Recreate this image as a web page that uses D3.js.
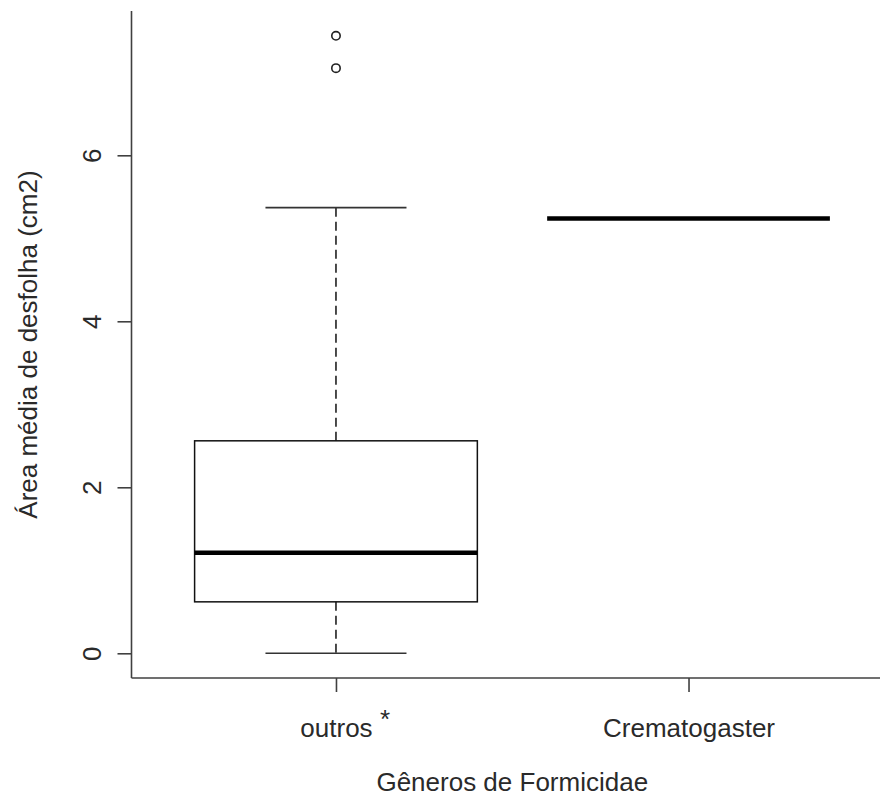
<!DOCTYPE html>
<html><head><meta charset="utf-8">
<script src="https://cdn.jsdelivr.net/npm/d3@7/dist/d3.min.js"></script>
<style>html,body{margin:0;padding:0;background:#fff;}svg{display:block;}</style>
</head><body>
<script>
// ---- data ----
const categories = ["outros", "Crematogaster"];
const q1Values = [0.62, 5.24];
const medianValues = [1.21, 5.24];
const q3Values = [2.56, 5.24];
const whiskerLow = [0.0, 5.24];
const whiskerHigh = [5.37, 5.24];
const outlierValues = [[7.05, 7.44], []];
const yTicks = [0, 2, 4, 6];
const xTitle = "Gêneros de Formicidae";
const yTitle = "Área média de desfolha (cm2)";

const W = 880, H = 803;
const font = "'Liberation Sans', Arial, sans-serif";
const textColor = "#2a2a2a";
const svg = d3.select("body").append("svg").attr("width", W).attr("height", H);

const x = d3.scaleLinear().domain([0.42, 2.58]).range([131.5, 893]);
const y = d3.scaleLinear().domain([0, 6]).range([653.3, 155.3]);
const yLo = -0.2976, yHi = 7.7376;
const boxW = 0.802, capW = 0.4;

const axisColor = "#404040";

// axes lines (L shape)
svg.append("line").attr("x1", x(0.42)).attr("x2", x(0.42)).attr("y1", y(yHi)).attr("y2", y(yLo))
  .attr("stroke", axisColor).attr("stroke-width", 1.6);
svg.append("line").attr("x1", x(0.42)).attr("x2", x(2.58)).attr("y1", y(yLo)).attr("y2", y(yLo))
  .attr("stroke", axisColor).attr("stroke-width", 1.6);

// y axis ticks via d3 axis
const yAxis = d3.axisLeft(y).tickValues(yTicks).tickSize(14).tickFormat(d3.format("d"));
const gy = svg.append("g").attr("transform", `translate(${x(0.42)},0)`).call(yAxis);
gy.select(".domain").remove();
gy.selectAll(".tick line").attr("stroke", axisColor).attr("stroke-width", 1.6);
gy.selectAll(".tick text")
  .attr("font-family", font).attr("font-size", 26).attr("fill", textColor)
  .attr("x", 0).attr("dy", 0).attr("text-anchor", "middle")
  .attr("transform", "translate(-31,0) rotate(-90)");

// x axis ticks
const xAxis = d3.axisBottom(x).tickValues([1, 2]).tickSize(14).tickFormat((d) => categories[d - 1]);
const gx = svg.append("g").attr("transform", `translate(0,${y(yLo)})`).call(xAxis);
gx.select(".domain").remove();
gx.selectAll(".tick line").attr("stroke", axisColor).attr("stroke-width", 1.6);
gx.selectAll(".tick text")
  .attr("font-family", font).attr("font-size", 26).attr("fill", textColor)
  .attr("y", 59).attr("dy", 0);
// asterisk after "outros"
svg.append("text").attr("x", x(1) + 44).attr("y", y(yLo) + 50)
  .attr("font-family", font).attr("font-size", 26).attr("fill", textColor).text("*");

// boxes
categories.forEach((c, i) => {
  const cx = x(i + 1);
  const xl = x(i + 1 - boxW / 2), xr = x(i + 1 + boxW / 2);
  const cl = x(i + 1 - capW / 2), cr = x(i + 1 + capW / 2);
  const g = svg.append("g");
  // whiskers
  g.append("line").attr("x1", cx).attr("x2", cx).attr("y1", y(q3Values[i])).attr("y2", y(whiskerHigh[i]))
    .attr("stroke", "#000").attr("stroke-width", 1.4).attr("stroke-dasharray", "9,5");
  g.append("line").attr("x1", cx).attr("x2", cx).attr("y1", y(q1Values[i])).attr("y2", y(whiskerLow[i]))
    .attr("stroke", "#000").attr("stroke-width", 1.4).attr("stroke-dasharray", "9,5");
  // caps
  [whiskerHigh[i], whiskerLow[i]].forEach(v => {
    g.append("line").attr("x1", cl).attr("x2", cr).attr("y1", y(v)).attr("y2", y(v))
      .attr("stroke", "#333").attr("stroke-width", 1.6);
  });
  // box
  g.append("rect").attr("x", xl).attr("y", y(q3Values[i])).attr("width", xr - xl)
    .attr("height", y(q1Values[i]) - y(q3Values[i]))
    .attr("fill", "none").attr("stroke", "#111").attr("stroke-width", 1.5);
  // median
  g.append("line").attr("x1", xl).attr("x2", xr).attr("y1", y(medianValues[i])).attr("y2", y(medianValues[i]))
    .attr("stroke", "#000").attr("stroke-width", 4.5);
  // outliers
  outlierValues[i].forEach(v => {
    g.append("circle").attr("cx", cx).attr("cy", y(v)).attr("r", 4.2)
      .attr("fill", "none").attr("stroke", "#222").attr("stroke-width", 1.6);
  });
});

// axis titles
svg.append("text").attr("x", (x(0.42) + x(2.58)) / 2).attr("y", 791)
  .attr("text-anchor", "middle").attr("font-family", font).attr("font-size", 26).attr("fill", textColor)
  .text(xTitle);
svg.append("text").attr("transform", `translate(37,${(y(yLo) + y(yHi)) / 2}) rotate(-90)`)
  .attr("text-anchor", "middle").attr("font-family", font).attr("font-size", 26).attr("fill", textColor)
  .text(yTitle);
</script>
</body></html>
